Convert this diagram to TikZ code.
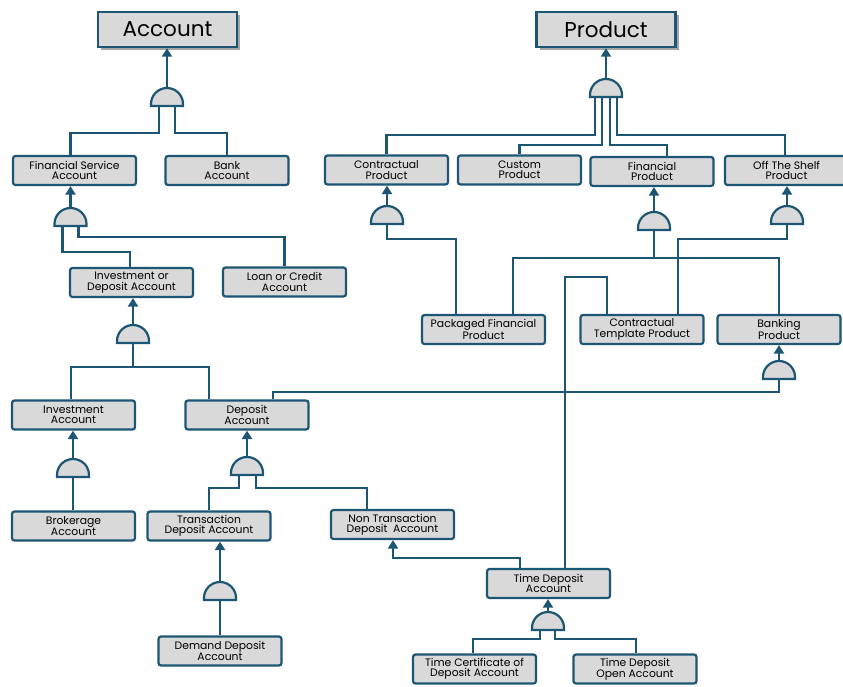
\documentclass[tikz,border=0pt]{standalone}
\usepackage{fontspec}
\setmainfont{Poppins}
\usetikzlibrary{arrows.meta,calc,shadows}
\definecolor{wire}{RGB}{28,86,116}
\definecolor{boxfill}{RGB}{217,217,217}
\definecolor{shade}{RGB}{165,165,165}

\tikzset{
  conn/.style={draw=wire, line width=2.2pt},
  arr/.style={conn, -{Triangle[width=10pt,length=8.5pt]}},
  cls/.style={draw=wire, fill=boxfill, line width=2.2pt, rounded corners=2.5pt,
    minimum width=123pt, minimum height=29pt, inner sep=0pt, align=center,
    font=\fontsize{10.8}{10.4}\selectfont},
  root/.style={draw=wire, fill=boxfill, line width=2.4pt,
    minimum width=139pt, minimum height=35pt, inner sep=0pt,
    font=\fontsize{21.5}{24}\selectfont,
    drop shadow={shadow xshift=3pt, shadow yshift=-3pt, fill=shade, opacity=1}},
  gatebody/.style={draw=wire, fill=boxfill, line width=2.2pt}
}

% AND-gate: flat base at the given coordinate, dome on top
\newcommand{\andgate}[1]{%
  \draw[gatebody] ($(#1)+(-16,0)$) -- ++(0,-2)
    arc[start angle=180, end angle=360, radius=16] -- ++(0,2) -- cycle;}

\begin{document}
\begin{tikzpicture}[x=1pt, y=-1pt]
\useasboundingbox (0,0) rectangle (843,686);

% roots
\node[root] (acc)  at (167.5,29.5) {Account};
\node[root] (prod) at (606,29.5) {Product};

% classes
\node[cls] (fsa)  at (74.5,170.5) {Financial Service\\Account};
\node[cls] (bank) at (227,170.5)  {Bank\\Account};
\node[cls] (cp)   at (386.5,170)  {Contractual\\Product};
\node[cls] (cust) at (519.5,170)  {Custom\\Product};
\node[cls] (fp)   at (652,171.5)  {Financial\\Product};
\node[cls] (ots)  at (786.5,170.5) {Off The Shelf\\Product};
\node[cls] (ida)  at (131.5,282.5) {Investment or\\Deposit Account};
\node[cls] (loan) at (284.5,282)  {Loan or Credit\\Account};
\node[cls] (pkg)  at (483.5,329.5) {Packaged Financial\\Product};
\node[cls] (ctp)  at (642,329.5)  {Contractual\\Template Product};
\node[cls] (bp)   at (779,329.5)  {Banking\\Product};
\node[cls] (inv)  at (73.5,415)   {Investment\\Account};
\node[cls] (dep)  at (247,415)    {Deposit\\Account};
\node[cls] (brk)  at (73.5,526)   {Brokerage\\Account};
\node[cls] (tda)  at (209,526)    {Transaction\\Deposit Account};
\node[cls] (nta)  at (392.5,524.5) {Non Transaction\\Deposit\ \ Account};
\node[cls] (tdep) at (548.5,583.5) {Time Deposit\\Account};
\node[cls] (dda)  at (220,651)    {Demand Deposit\\Account};
\node[cls] (tcda) at (474.5,669)  {Time Certificate of\\Deposit Account};
\node[cls] (tdoa) at (635,669)    {Time Deposit\\Open Account};

% gate base centres
\coordinate (gA)   at (167,106);
\coordinate (gP)   at (606,97);
\coordinate (gFSA) at (70.5,226);
\coordinate (gCP)  at (387,224);
\coordinate (gFP)  at (654,230);
\coordinate (gOTS) at (787,224);
\coordinate (gIDA) at (133,343);
\coordinate (gBP)  at (779,379);
\coordinate (gINV) at (73,477);
\coordinate (gDEP) at (247,475);
\coordinate (gDDA) at (220,600);
\coordinate (gTD)  at (548,630);

% gate outputs
\draw[arr] ($(gA)+(0,-18)$)   -- (gA |- acc.south);
\draw[arr] ($(gP)+(0,-18)$)   -- (gP |- prod.south);
\draw[arr] ($(gFSA)+(0,-18)$) -- (gFSA |- fsa.south);
\draw[arr] ($(gCP)+(0,-18)$)  -- (gCP |- cp.south);
\draw[arr] ($(gFP)+(0,-18)$)  -- (gFP |- fp.south);
\draw[arr] ($(gOTS)+(0,-18)$) -- (gOTS |- ots.south);
\draw[arr] ($(gIDA)+(0,-18)$) -- (gIDA |- ida.south);
\draw[arr] ($(gBP)+(0,-18)$)  -- (gBP |- bp.south);
\draw[arr] ($(gINV)+(0,-18)$) -- (gINV |- inv.south);
\draw[arr] ($(gDEP)+(0,-18)$) -- (gDEP |- dep.south);
\draw[arr] ($(gDDA)+(0,-18)$) -- (gDDA |- tda.south);
\draw[arr] ($(gTD)+(0,-18)$)  -- (gTD |- tdep.south);

% gate inputs
\draw[conn] ($(gA)+(-8,0)$) -- ++(0,27) -| ($(fsa.north)+(-4,0)$);
\draw[conn] ($(gA)+(8,0)$)  -- ++(0,27) -| (bank.north);

\draw[conn] ($(gP)+(-11,0)$) -- ++(0,38) -| (cp.north);
\draw[conn] ($(gP)+(-4,0)$)  -- ++(0,48) -| (cust.north);
\draw[conn] ($(gP)+(4,0)$)   -- ++(0,48) -| ($(fp.north)+(15,0)$);
\draw[conn] ($(gP)+(11,0)$)  -- ++(0,38) -| ($(ots.north)+(-1.5,0)$);

\draw[conn] ($(gFSA)+(-8,0)$) -- ++(0,26) -| ($(ida.north)+(-1.5,0)$);
\draw[conn] ($(gFSA)+(8,0)$)  -- ++(0,11) -| (loan.north);

\draw[conn] (gIDA) -- ++(0,24);
\draw[conn] ($(inv.north)+(-2.5,0)$) |- ($(gIDA)+(0,24)$) -| ($(dep.north)+(-38,0)$);

\draw[conn] (gCP) -- ++(0,15) -| ($(pkg.north)+(-27.5,0)$);

\draw[conn] (gFP) -- ++(0,28);
\draw[conn] ($(pkg.north)+(29.5,0)$) |- ($(gFP)+(0,28)$) -| (bp.north);

\draw[conn] (gOTS) -- ++(0,15) -| ($(ctp.north)+(36,0)$);

\draw[conn] ($(tdep.north)+(16.5,0)$) |- ($(ctp.north)+(-35,-37)$) -- ($(ctp.north)+(-35,0)$);

\draw[conn] (gBP) -- ++(0,13) -| ($(dep.north)+(26,0)$);

\draw[conn] (gINV) -- (gINV |- brk.north);

\draw[conn] ($(gDEP)+(-8,0)$) -- ++(0,13) -| (tda.north);
\draw[conn] ($(gDEP)+(9,0)$)  -- ++(0,13) -| ($(nta.north)+(-25.5,0)$);

\draw[conn] (gDDA) -- (gDDA |- dda.north);

\draw[arr] ($(tdep.north)+(-28.5,0)$) |- ($(nta.south)+(0.5,18)$) -- ($(nta.south)+(0.5,0)$);

\draw[conn] ($(gTD)+(-8,0)$) -- ++(0,9) -| ($(tcda.north)+(-1.5,0)$);
\draw[conn] ($(gTD)+(7,0)$)  -- ++(0,9) -| ($(tdoa.north)+(1,0)$);

% gates
\foreach \g in {gA,gP,gFSA,gCP,gFP,gOTS,gIDA,gBP,gINV,gDEP,gDDA,gTD}{\andgate{\g}}

\end{tikzpicture}
\end{document}
